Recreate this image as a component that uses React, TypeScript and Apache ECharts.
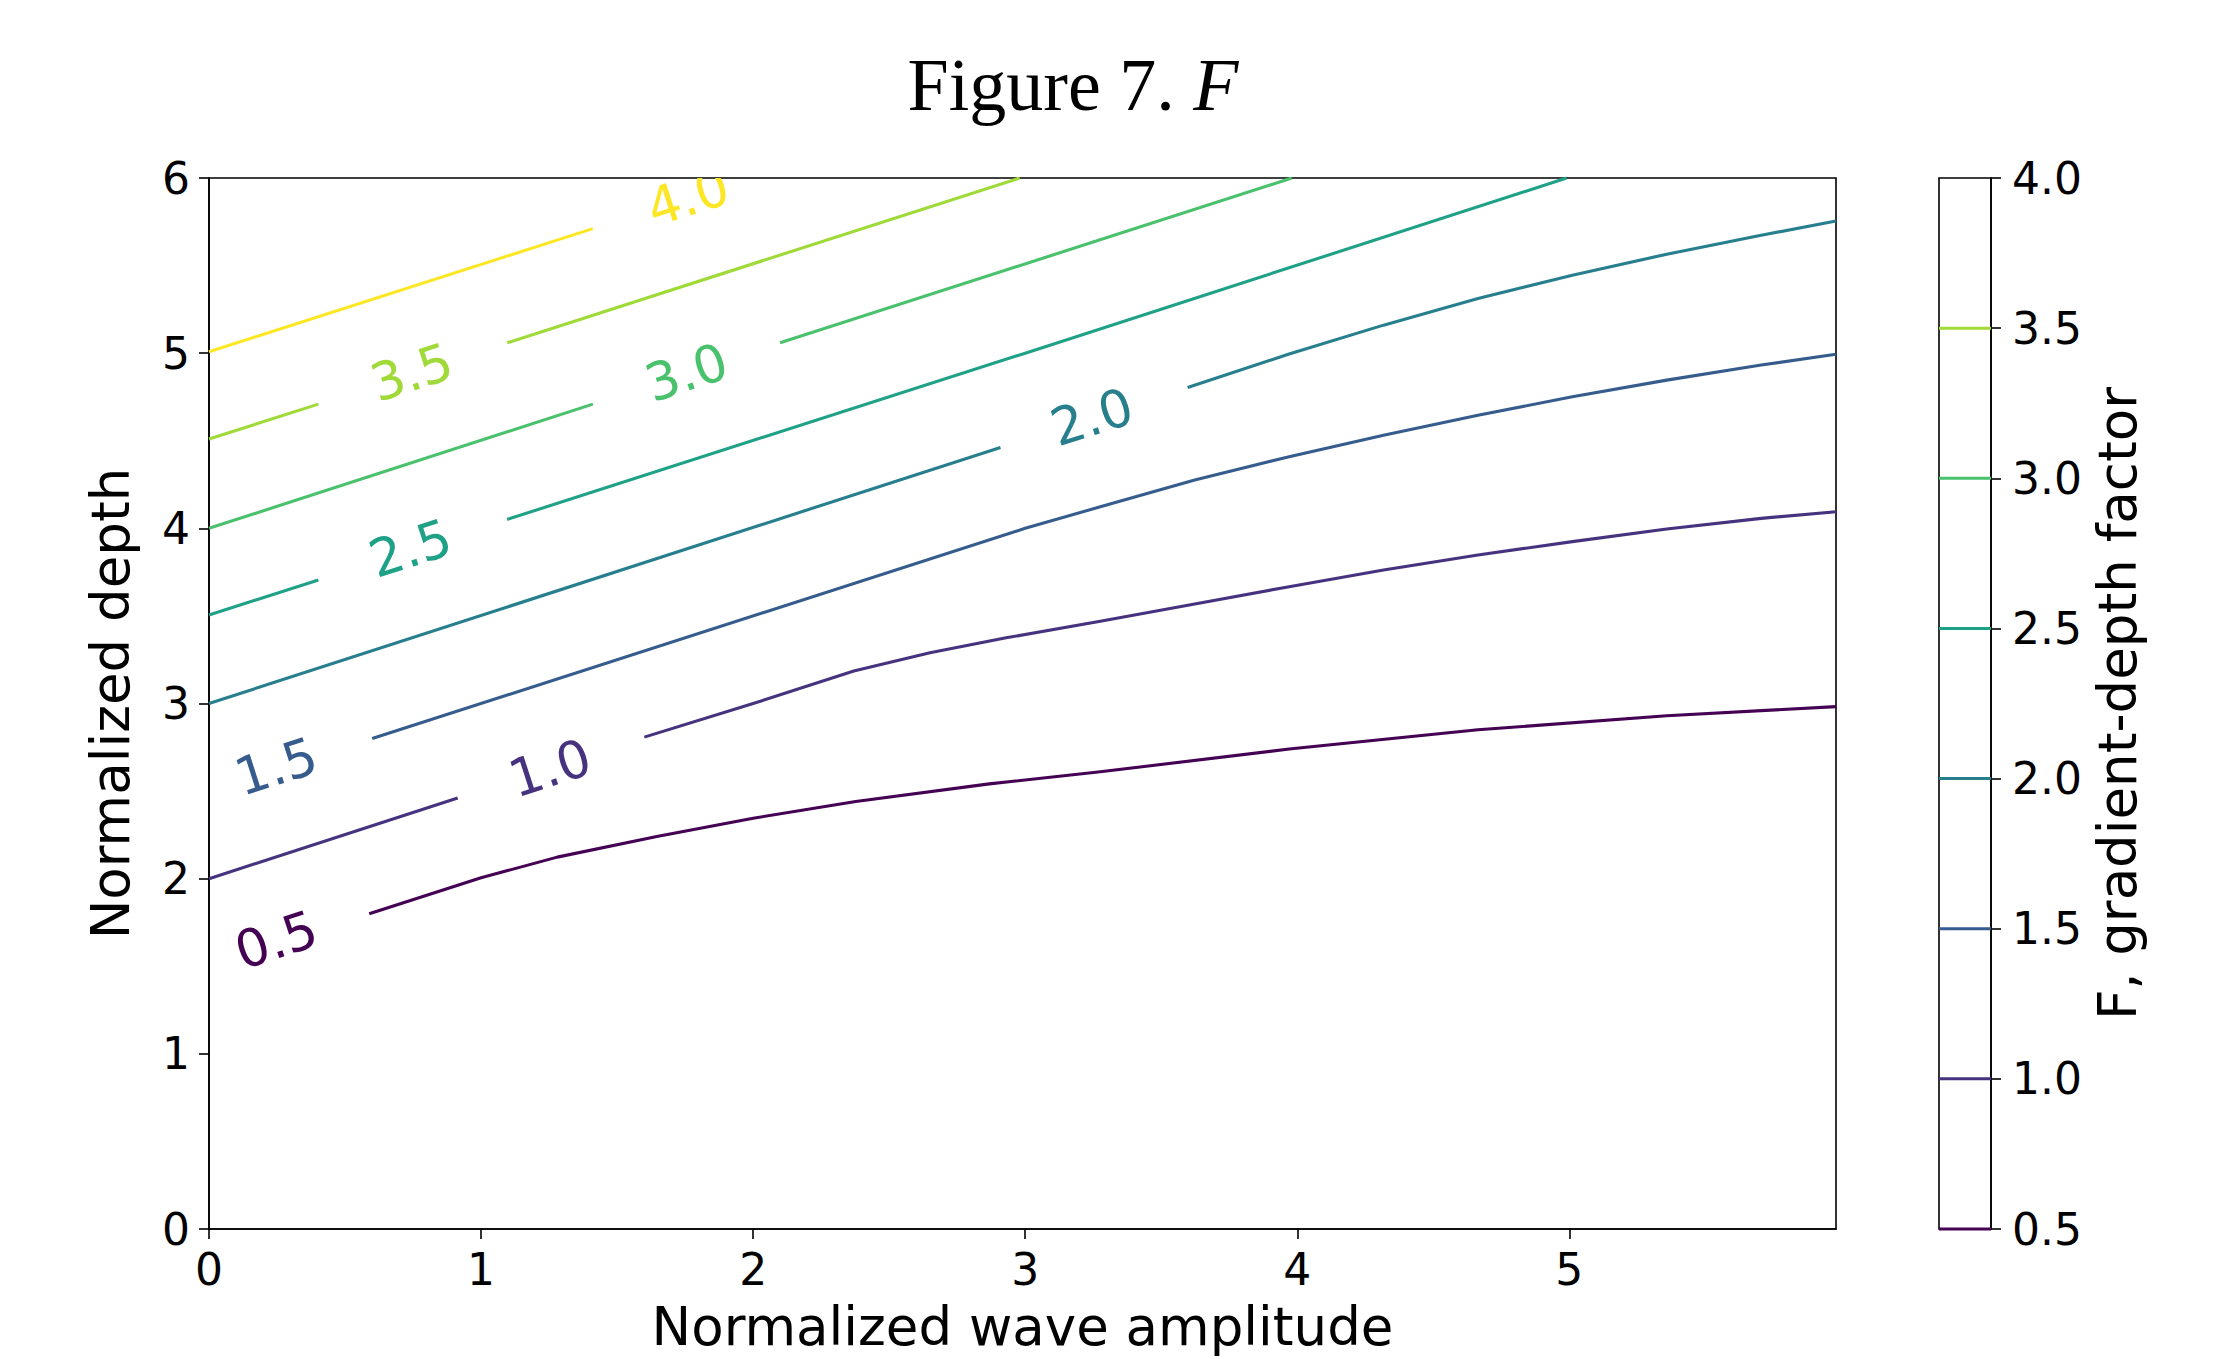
import React, { useEffect, useRef } from "react";
import * as echarts from "echarts";

// ---- axes ----
const X_MIN = 0;
const X_MAX = 5.98;
const Y_MIN = 0;
const Y_MAX = 6;
const X_TICKS = [0, 1, 2, 3, 4, 5];
const CB_MIN = 0.5;
const CB_MAX = 4.0;

// ---- contour levels (F, gradient-depth factor) ----
const LEVELS = [0.5, 1.0, 1.5, 2.0, 2.5, 3.0, 3.5, 4.0];
const LEVEL_TEXT = ["0.5", "1.0", "1.5", "2.0", "2.5", "3.0", "3.5", "4.0"];
const VIRIDIS = ["#440154", "#46327e", "#365c8d", "#277f8e", "#1fa187", "#4ac16d", "#a0da39", "#fde725"];

// contour segments [wave amplitude, depth], split where the inline labels sit
const CONTOUR_05 = [
  [[0.589, 1.8], [1.0, 2.005], [1.28, 2.123], [1.646, 2.241], [2.0, 2.345], [2.377, 2.441], [2.868, 2.541], [3.276, 2.61], [3.97, 2.74], [4.664, 2.85], [5.358, 2.93], [5.98, 2.982]],
];
const CONTOUR_10 = [
  [[0, 2.0], [0.914, 2.46]],
  [[1.6, 2.808], [2.0, 3.0], [2.37, 3.185], [2.65, 3.29], [2.93, 3.375], [3.276, 3.47], [3.623, 3.568], [3.97, 3.667], [4.317, 3.762], [4.664, 3.848], [5.011, 3.924], [5.358, 3.996], [5.705, 4.057], [5.98, 4.095]],
];
const CONTOUR_15 = [
  [[0.6, 2.8], [3.0, 4.0], [3.276, 4.123], [3.623, 4.276], [3.97, 4.409], [4.317, 4.532], [4.664, 4.646], [5.011, 4.751], [5.358, 4.846], [5.705, 4.932], [5.98, 4.994]],
];
const CONTOUR_20 = [
  [[0, 3.0], [2.909, 4.462]],
  [[3.597, 4.804], [3.97, 4.995], [4.317, 5.16], [4.664, 5.312], [5.011, 5.445], [5.358, 5.565], [5.705, 5.673], [5.98, 5.755]],
];
const CONTOUR_25 = [
  [[0, 3.505], [0.402, 3.705]],
  [[1.096, 4.051], [3.0, 5.0], [4.99, 6.0]],
];
const CONTOUR_30 = [
  [[0, 4.0], [1.411, 4.709]],
  [[2.099, 5.059], [3.98, 6.0]],
];
const CONTOUR_35 = [
  [[0, 4.51], [0.402, 4.709]],
  [[1.096, 5.059], [2.98, 6.0]],
];
const CONTOUR_40 = [
  [[0, 5.008], [1.411, 5.711]],
];
const CONTOURS = [CONTOUR_05, CONTOUR_10, CONTOUR_15, CONTOUR_20, CONTOUR_25, CONTOUR_30, CONTOUR_35, CONTOUR_40];

// inline label centres and the two ends of the gap each one sits in
const LABEL_POS = [[0.247, 1.65], [1.253, 2.631], [0.247, 2.64], [3.245, 4.635], [0.74, 3.885], [1.755, 4.89], [0.745, 4.89], [1.76, 5.89]];
const LABEL_GAP = [
  [0, 1.5, 0.589, 1.8],
  [0.914, 2.46, 1.6, 2.808],
  [0, 2.5, 0.6, 2.8],
  [2.909, 4.462, 3.597, 4.804],
  [0.402, 3.705, 1.096, 4.051],
  [1.411, 4.709, 2.099, 5.059],
  [0.402, 4.709, 1.096, 5.059],
  [1.411, 5.711, 2.11, 6.06],
];

const FONT = '"DejaVu Sans", sans-serif';
const BLACK = "#000";

function buildOption() {
  const series: any[] = [];
  CONTOURS.forEach((segs, i) => {
    segs.forEach((seg) => {
      series.push({
        type: "line",
        xAxisIndex: 0,
        yAxisIndex: 0,
        data: seg,
        showSymbol: false,
        symbol: "none",
        smooth: false,
        clip: true,
        silent: true,
        z: 3,
        lineStyle: { color: VIRIDIS[i], width: 3.1, join: "round", cap: "butt" },
        itemStyle: { color: VIRIDIS[i] },
      });
    });
  });

  series.push({
    type: "custom",
    xAxisIndex: 0,
    yAxisIndex: 0,
    clip: true,
    silent: true,
    z: 4,
    data: LEVELS.map((lv, i) => [LABEL_POS[i][0], LABEL_POS[i][1], ...LABEL_GAP[i], lv]),
    encode: { x: 0, y: 1 },
    renderItem: (params: any, api: any) => {
      const i = params.dataIndex;
      const p = api.coord([api.value(0), api.value(1)]);
      const a = api.coord([api.value(2), api.value(3)]);
      const b = api.coord([api.value(4), api.value(5)]);
      const ang = Math.atan2(a[1] - b[1], b[0] - a[0]);
      return {
        type: "text",
        x: p[0],
        y: p[1],
        rotation: ang,
        style: {
          text: LEVEL_TEXT[i],
          fill: VIRIDIS[i],
          fontSize: 52,
          fontFamily: FONT,
          align: "center",
          verticalAlign: "middle",
        },
      };
    },
  });

  series.push({
    type: "custom",
    xAxisIndex: 1,
    yAxisIndex: 1,
    silent: true,
    z: 3,
    data: LEVELS.filter((lv) => lv < CB_MAX).map((lv) => [0, lv, 1]),
    encode: { x: 0, y: 1 },
    renderItem: (params: any, api: any) => {
      const lv = api.value(1);
      const idx = LEVELS.indexOf(lv);
      const a = api.coord([api.value(0), lv]);
      const b = api.coord([api.value(2), lv]);
      return {
        type: "line",
        shape: { x1: a[0], y1: a[1], x2: b[0], y2: b[1] },
        style: { stroke: VIRIDIS[idx], lineWidth: 3 },
      };
    },
  });

  const tickStyle = { color: BLACK, width: 1.6 };

  return {
    animation: false,
    backgroundColor: "#fff",
    graphic: [
      {
        type: "text",
        x: 1073,
        y: 85,
        style: {
          text: "Figure 7. {i|F}",
          fontFamily: "Liberation Serif",
          fontSize: 74,
          fill: BLACK,
          align: "center",
          verticalAlign: "middle",
          rich: {
            i: { fontFamily: "Liberation Serif", fontSize: 74, fontStyle: "italic", fill: BLACK },
          },
        },
      },
    ],
    grid: [
      { left: 209, top: 178, width: 1627, height: 1051, show: true, borderColor: BLACK, borderWidth: 1.6, backgroundColor: "transparent" },
      { left: 1939, top: 178, width: 52, height: 1051, show: true, borderColor: BLACK, borderWidth: 1.6, backgroundColor: "transparent" },
    ],
    xAxis: [
      {
        gridIndex: 0,
        type: "value",
        min: X_MIN,
        max: X_MAX,
        interval: 1,
        axisLine: { show: true, onZero: false, lineStyle: tickStyle },
        axisTick: { show: true, inside: false, length: 10, customValues: X_TICKS, lineStyle: tickStyle },
        axisLabel: {
          customValues: X_TICKS,
          margin: 18,
          color: BLACK,
          fontSize: 44,
          fontFamily: FONT,
          formatter: (v: number) => String(v),
        },
        splitLine: { show: false },
        name: "Normalized wave amplitude",
        nameLocation: "middle",
        nameGap: 71,
        nameTextStyle: { color: BLACK, fontSize: 53, fontFamily: FONT },
      },
      { gridIndex: 1, type: "value", min: 0, max: 1, show: false },
    ],
    yAxis: [
      {
        gridIndex: 0,
        type: "value",
        min: Y_MIN,
        max: Y_MAX,
        interval: 1,
        axisLine: { show: true, onZero: false, lineStyle: tickStyle },
        axisTick: { show: true, inside: false, length: 10, lineStyle: tickStyle },
        axisLabel: { margin: 19, color: BLACK, fontSize: 44, fontFamily: FONT },
        splitLine: { show: false },
        name: "Normalized depth",
        nameLocation: "middle",
        nameGap: 72,
        nameRotate: 90,
        nameTextStyle: { color: BLACK, fontSize: 53, fontFamily: FONT },
      },
      {
        gridIndex: 1,
        type: "value",
        position: "right",
        min: CB_MIN,
        max: CB_MAX,
        interval: 0.5,
        axisLine: { show: true, onZero: false, lineStyle: tickStyle },
        axisTick: { show: true, inside: false, length: 10, lineStyle: tickStyle },
        axisLabel: {
          margin: 21,
          color: BLACK,
          fontSize: 44,
          fontFamily: FONT,
          formatter: (v: number) => v.toFixed(1),
        },
        splitLine: { show: false },
        name: "F, gradient-depth factor",
        nameLocation: "middle",
        nameGap: 100,
        nameRotate: 90,
        nameTextStyle: { color: BLACK, fontSize: 53, fontFamily: FONT },
      },
    ],
    series,
  };
}

export default function App() {
  const ref = useRef<HTMLDivElement>(null);
  useEffect(() => {
    if (!ref.current) return;
    const chart = echarts.init(ref.current, undefined, { renderer: "svg" });
    chart.setOption(buildOption() as any);
    return () => chart.dispose();
  }, []);
  return (
    <div
      ref={ref}
      style={{ position: "absolute", left: 0, top: 0, width: 2213, height: 1359, background: "#fff" }}
    />
  );
}
